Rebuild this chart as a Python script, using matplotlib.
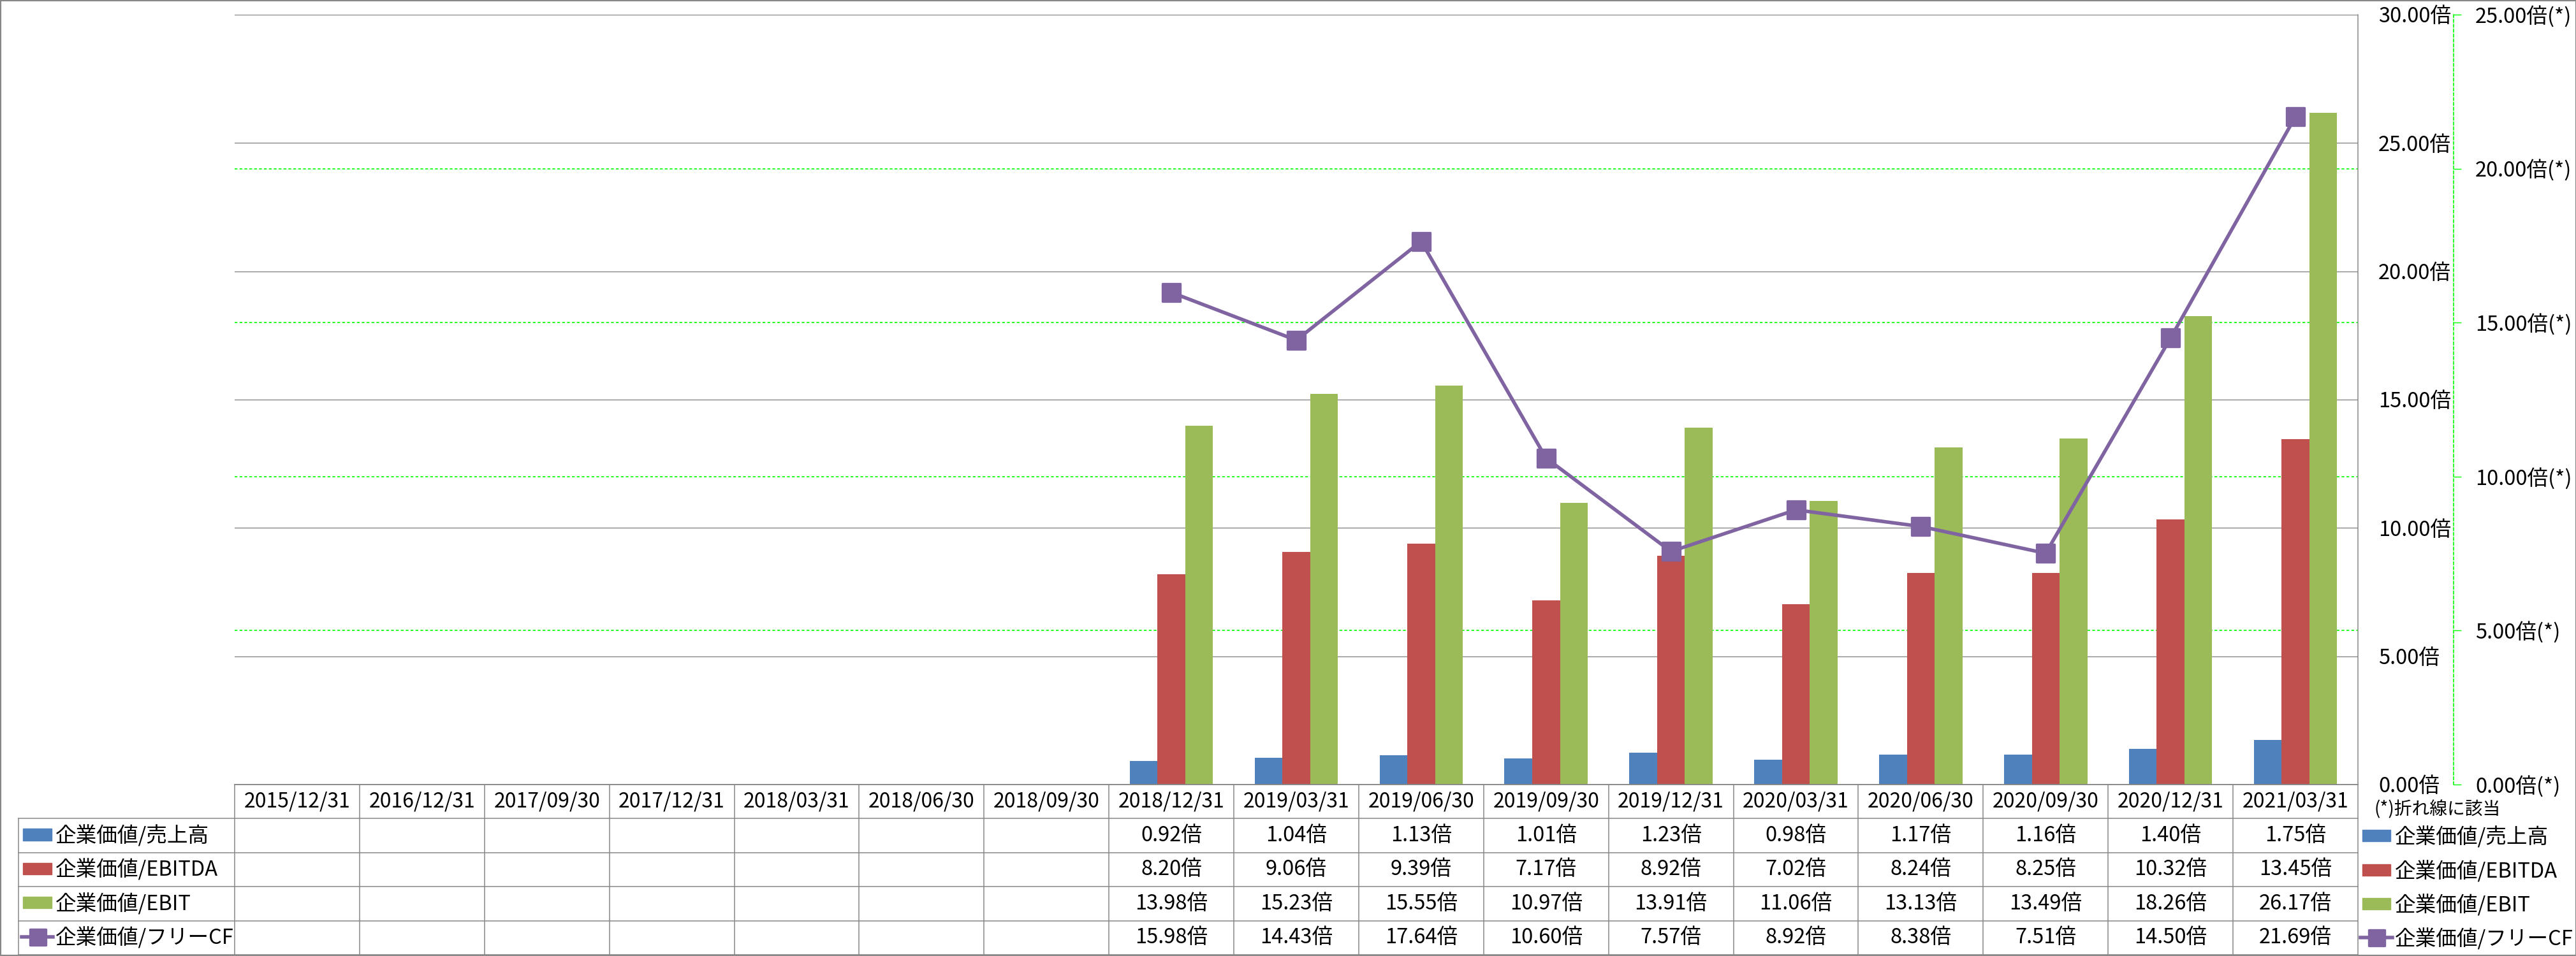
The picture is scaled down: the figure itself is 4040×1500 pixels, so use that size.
import numpy as np
import matplotlib
matplotlib.use("Agg")
import matplotlib.pyplot as plt
from matplotlib.patches import Rectangle
from matplotlib.lines import Line2D
from matplotlib.markers import MarkerStyle

plt.rcParams['font.family'] = ['Noto Sans CJK JP', 'DejaVu Sans']

# ---------------- data ----------------
dates = ["2015/12/31", "2016/12/31", "2017/09/30", "2017/12/31", "2018/03/31",
         "2018/06/30", "2018/09/30", "2018/12/31", "2019/03/31", "2019/06/30",
         "2019/09/30", "2019/12/31", "2020/03/31", "2020/06/30", "2020/09/30",
         "2020/12/31", "2021/03/31"]
nan = np.nan
ev_sales = [nan] * 7 + [0.92, 1.04, 1.13, 1.01, 1.23, 0.98, 1.17, 1.16, 1.40, 1.75]
ev_ebitda = [nan] * 7 + [8.20, 9.06, 9.39, 7.17, 8.92, 7.02, 8.24, 8.25, 10.32, 13.45]
ev_ebit = [nan] * 7 + [13.98, 15.23, 15.55, 10.97, 13.91, 11.06, 13.13, 13.49, 18.26, 26.17]
ev_fcf = [nan] * 7 + [15.98, 14.43, 17.64, 10.60, 7.57, 8.92, 8.38, 7.51, 14.50, 21.69]
series_names = ["企業価値/売上高", "企業価値/EBITDA", "企業価値/EBIT", "企業価値/フリーCF"]
primary_ticks = [0, 5, 10, 15, 20, 25, 30]
secondary_ticks = [0, 5, 10, 15, 20, 25]
footnote = "(*)折れ線に該当"

C_BLUE, C_RED, C_GREEN, C_PURPLE = "#4F81BD", "#C0504D", "#9BBB59", "#8064A2"
C_GRID = "#888888"
C_LIME = "#00FF00"

# ---------------- layout ----------------
W, H, DPI = 4041, 1500, 100
fig = plt.figure(figsize=(W / DPI, H / DPI), dpi=DPI, facecolor="white")


def fx(px):
    return px / W


def fy(py):
    return 1 - py / H


PL, PR, PT, PB = 368, 3698, 23, 1231
TL, TB = 29, 1498
N = len(dates)
CAT_PX = (PR - PL) / N
x = np.arange(N)

rect = [fx(PL), fy(PB), fx(PR) - fx(PL), fy(PT) - fy(PB)]

# layer for secondary (green dashed) gridlines, below bars
axg = fig.add_axes(rect, zorder=0)
axg.set_xlim(-0.5, N - 0.5)
axg.set_ylim(0, 25)
axg.set_yticks(secondary_ticks[1:])
axg.set_xticks([])
axg.tick_params(axis="y", length=0, labelleft=False, labelright=False)
for s in axg.spines.values():
    s.set_visible(False)
axg.grid(axis="y", color=C_LIME, linestyle=(0, (2.6, 2.0)), linewidth=1.2)

# primary axis with bars
ax = fig.add_axes(rect, zorder=1)
ax.patch.set_visible(False)
ax.set_xlim(-0.5, N - 0.5)
ax.set_ylim(0, 30)

bw = 1 / 1.5 / 3
ax.bar(x - bw, ev_sales, bw, color=C_BLUE, zorder=2)
ax.bar(x, ev_ebitda, bw, color=C_RED, zorder=2)
ax.bar(x + bw, ev_ebit, bw, color=C_GREEN, zorder=2)

# secondary axis with line
ax2 = ax.twinx()
ax2.set_zorder(2)
ax2.patch.set_visible(False)
ax2.set_ylim(0, 25)
ax2.set_yticks(secondary_ticks)
ax2.set_yticklabels([f"{v:.2f}倍(*)" for v in secondary_ticks])
for k in ["left", "top", "bottom"]:
    ax2.spines[k].set_visible(False)
ax2.spines["right"].set_position(("outward", 150 * 72 / DPI))
ax2.spines["right"].set_color(C_LIME)
ax2.spines["right"].set_linestyle((0, (2.6, 2.0)))
ax2.spines["right"].set_linewidth(1.2)
ax2.tick_params(axis="y", direction="out", length=8.6, width=1.0, color=C_LIME,
                pad=16, labelsize=23.5)

# primary axis styling (after twinx, which resets tick side)
ax.set_yticks(primary_ticks)
ax.set_yticklabels([f"{v:.2f}倍" for v in primary_ticks])
ax.yaxis.tick_right()
ax.tick_params(axis="y", length=0, pad=23, labelsize=23.5, labelleft=False, labelright=True)
ax.set_xticks([])
ax.grid(axis="y", color=C_GRID, linewidth=1.0)
ax.set_axisbelow(True)
for k in ["left", "top"]:
    ax.spines[k].set_visible(False)
ax.spines["right"].set_color(C_GRID)
ax.spines["right"].set_linewidth(1.1)
ax.spines["bottom"].set_color(C_GRID)
ax.spines["bottom"].set_linewidth(1.1)

msq = MarkerStyle("s", joinstyle="round")
ax2.plot(x, ev_fcf, color=C_PURPLE, linewidth=4.0, marker=msq, markersize=19.5,
         markerfacecolor=C_PURPLE, markeredgecolor=C_PURPLE, markeredgewidth=2.4,
         zorder=3, clip_on=False)

# ---------------- data table ----------------
tax = fig.add_axes([fx(TL), fy(TB), fx(PR) - fx(TL), fy(PB) - fy(TB)], zorder=1)
x0 = -0.5 - (PL - TL) / CAT_PX
tax.set_xlim(x0, N - 0.5)
tax.set_ylim(5, 0)
tax.axis("off")


def px2x(px):
    return x0 + (px - TL) / CAT_PX


lkw = dict(color=C_GRID, linewidth=1.1, clip_on=False)
tax.plot([-0.5, N - 0.5], [0, 0], **lkw)
for r in range(1, 6):
    tax.plot([x0, N - 0.5], [r, r], **lkw)
for k in range(N + 1):
    tax.plot([-0.5 + k, -0.5 + k], [0, 5], **lkw)
tax.plot([x0, x0], [1, 5], **lkw)

for i, d in enumerate(dates):
    tax.text(i, 0.5, d, ha="center", va="center", fontsize=23)

rows = [ev_sales, ev_ebitda, ev_ebit, ev_fcf]
for r, vals in enumerate(rows):
    for i, v in enumerate(vals):
        if not np.isnan(v):
            tax.text(i, r + 1.5, f"{v:.2f}倍", ha="center", va="center", fontsize=23.5)

colors = [C_BLUE, C_RED, C_GREEN]
for r, name in enumerate(series_names):
    yc = r + 1.47
    if r < 3:
        tax.add_patch(Rectangle((px2x(36), yc - 0.17), px2x(81) - px2x(36), 0.34,
                                color=colors[r], clip_on=False))
    else:
        tax.add_line(Line2D([px2x(34), px2x(83)], [yc, yc], color=C_PURPLE, linewidth=4.0,
                            clip_on=False))
        tax.add_line(Line2D([px2x(58.5)], [yc], marker=msq, markersize=18,
                            markerfacecolor=C_PURPLE, markeredgecolor=C_PURPLE,
                            markeredgewidth=2.4, clip_on=False))
    tax.text(px2x(87), r + 1.5, name, ha="left", va="center", fontsize=23.5)

# ---------------- right side legend ----------------
fig.text(fx(3724), fy(1270), footnote, ha="left", va="center", fontsize=20)
row_centers = [1311, 1365, 1418, 1471]
for r, name in enumerate(series_names):
    yc = row_centers[r]
    if r < 3:
        fig.patches.append(Rectangle((fx(3705), fy(yc + 9)), fx(3749) - fx(3705),
                                     fy(yc - 9) - fy(yc + 9), color=colors[r],
                                     transform=fig.transFigure, figure=fig))
    else:
        fig.lines.append(Line2D([fx(3702), fx(3752)], [fy(yc), fy(yc)], color=C_PURPLE,
                                linewidth=4.0, transform=fig.transFigure, figure=fig))
        fig.lines.append(Line2D([fx(3727)], [fy(yc)], marker=msq, markersize=18,
                                markerfacecolor=C_PURPLE, markeredgecolor=C_PURPLE,
                                markeredgewidth=2.4, transform=fig.transFigure, figure=fig))
    fig.text(fx(3756), fy(yc + 2), name, ha="left", va="center", fontsize=23.5)

# chart border
fig.patches.append(Rectangle((0, 0), 1, 1, fill=False, edgecolor=C_GRID, linewidth=3.0,
                             transform=fig.transFigure, figure=fig))

fig.savefig("out.png", dpi=DPI, facecolor="white")
